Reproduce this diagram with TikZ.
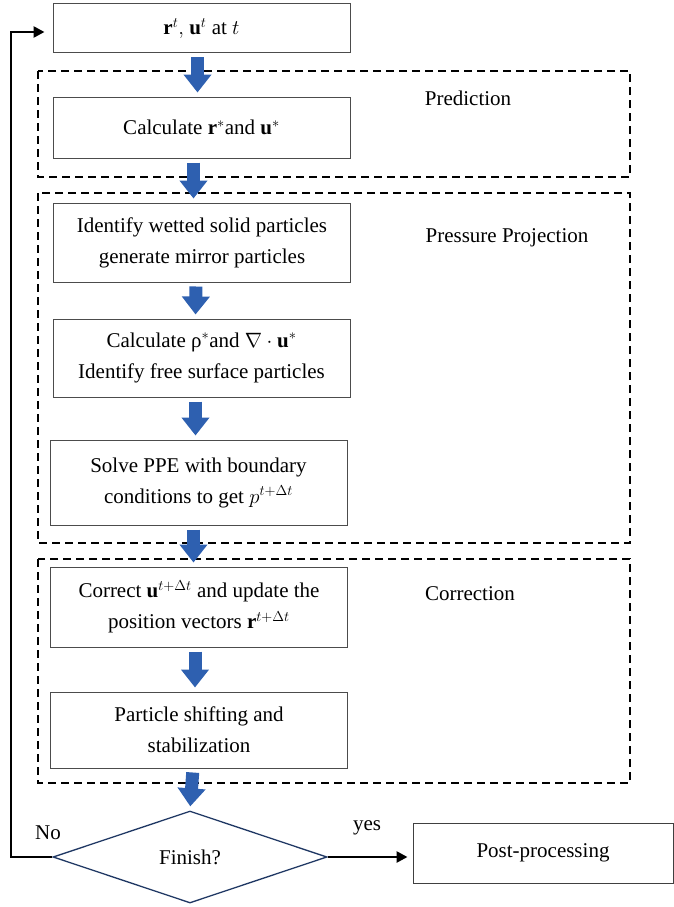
\documentclass[tikz,border=0pt]{standalone}
\usepackage{fontspec}
\setmainfont{Liberation Serif}
\usetikzlibrary{arrows.meta,shapes.geometric}
\definecolor{arrowblue}{RGB}{46,96,176}
\definecolor{navyline}{RGB}{32,56,100}

\begin{document}
\begin{tikzpicture}[x=1pt,y=-1pt,
    every node/.style={font=\fontsize{21}{31}\selectfont},
    stepbox/.style={draw=black!70, line width=1pt, inner sep=0pt, align=center, minimum width=297pt},
    stageline/.style={draw=black, line width=1.8pt, dash pattern=on 8pt off 5pt},
    flowarrow/.style={draw=arrowblue, line width=13pt, -{Triangle[width=27pt,length=18pt]}, shorten <=4pt, shorten >=4pt},
    loopline/.style={draw=black, line width=2.6pt, -{Triangle[width=11pt,length=11pt]}}]
    \useasboundingbox (0,0) rectangle (674,907);

    \draw[stageline] (38,71) rectangle (630,177);
    \draw[stageline] (38,193) rectangle (630,543);
    \draw[stageline] (38,559) rectangle (630,783);

    \node (predlabel) at (468,98) {Prediction};
    \node (presslabel) at (507,238) {Pressure Projection};
    \node (corrlabel) at (470,594) {Correction};

    \node[stepbox, minimum height=49pt] (start) at (201.5,28.5) {$\mathbf{r}^{t}\mathbf{,}$ $\mathbf{u}^{t}$ at $t$};
    \node[stepbox, minimum height=61pt] (calcru) at (201.5,127.5) {Calculate $\mathbf{r}^{*}$and $\mathbf{u}^{*}$};
    \node[stepbox, minimum height=79pt] (wetted) at (202,242.5) {Identify wetted solid particles\\generate mirror particles};
    \node[stepbox, minimum height=78pt] (calcrho) at (201.5,358) {Calculate ρ$^{*}$and $\nabla\cdot\mathbf{u}^{*}$\\Identify free surface particles};
    \node[stepbox, minimum height=85pt] (ppe) at (198.5,482.5) {Solve PPE with boundary\\conditions to get $p^{t+\Delta t}$};
    \node[stepbox, minimum height=80pt] (correct) at (199,607) {Correct $\mathbf{u}^{t+\Delta t}$ and update the\\position vectors $\mathbf{r}^{t+\Delta t}$};
    \node[stepbox, minimum height=76pt] (shift) at (199,730) {Particle shifting and\\stabilization};
    \node[diamond, draw=navyline, line width=1.3pt, inner sep=0pt, shape aspect=3, minimum width=274pt, minimum height=92pt] (finish) at (190,857) {Finish?};
    \node[draw=black!75, line width=1pt, minimum width=260pt, minimum height=60pt] (post) at (543,853) {Post-processing};

    \draw[flowarrow] ([xshift=-4pt]start.south) -- ([xshift=-4pt]calcru.north);
    \draw[flowarrow] ([xshift=-8pt]calcru.south) -- ([xshift=-8pt]calcru.south |- wetted.north);
    \draw[flowarrow] ([xshift=-6pt]wetted.south) -- ([xshift=-6pt]calcrho.north);
    \draw[flowarrow] ([xshift=-6pt]calcrho.south) -- ([xshift=-6pt]calcrho.south |- ppe.north);
    \draw[flowarrow] ([xshift=-5pt]ppe.south) -- ([xshift=-5pt]ppe.south |- correct.north);
    \draw[flowarrow] ([xshift=-4pt]correct.south) -- ([xshift=-4pt]shift.north);
    \draw[flowarrow] ([xshift=-6pt]shift.south) -- (finish.north);

    \coordinate (back) at (11,857);
    \draw[loopline, shorten >=8pt] (finish.west) -- (back) |- ([yshift=-3.5pt]start.west);
    \draw[loopline, shorten >=5pt] (finish.east) -- (post.west |- finish.east);

    \node (no) at (48,833) {No};
    \node (yes) at (367,828) {yes};
\end{tikzpicture}
\end{document}
